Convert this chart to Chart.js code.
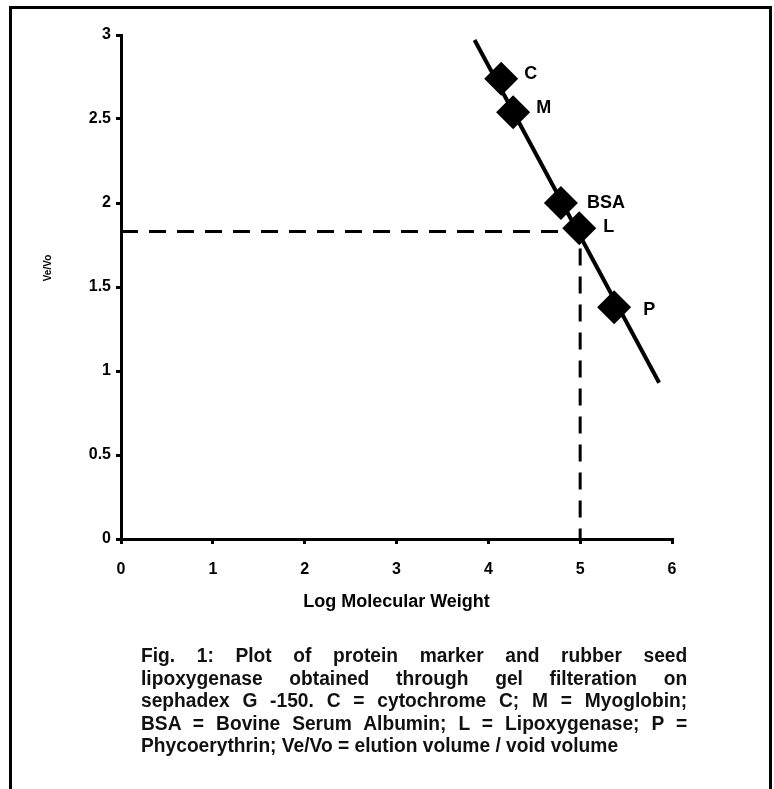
<!DOCTYPE html>
<html><head><meta charset="utf-8">
<script src="https://cdn.jsdelivr.net/npm/chart.js@4.4.1/dist/chart.umd.min.js"></script>
<style>
html,body{margin:0;padding:0;background:#fff;}
#wrap{position:relative;width:774px;height:789px;overflow:hidden;background:#fff;}
#frame{position:absolute;left:9px;top:6px;width:763px;height:820px;border:3px solid #000;border-bottom:none;box-sizing:border-box;}
#c{position:absolute;left:0;top:0;}
#cap{position:absolute;left:141px;top:644px;width:569px;transform:scaleX(0.96);transform-origin:0 0;font-family:"Liberation Sans Narrow","Arial Narrow","Liberation Sans",Arial,sans-serif;font-weight:bold;font-size:20px;line-height:22.5px;color:#111;}
#cap div{text-align:justify;text-align-last:justify;}
#cap div.last{text-align:left;text-align-last:left;}
</style></head>
<body><div id="wrap"><div id="frame"></div><canvas id="c" width="774" height="789"></canvas>
<div id="cap">
<div>Fig. 1: Plot of protein marker and rubber seed</div>
<div>lipoxygenase obtained through gel filteration on</div>
<div>sephadex G -150. C = cytochrome C; M = Myoglobin;</div>
<div>BSA = Bovine Serum Albumin; L = Lipoxygenase; P =</div>
<div class="last">Phycoerythrin; Ve/Vo = elution volume / void volume</div>
</div></div>
<script>
const markerNames = ['C', 'M', 'BSA', 'L', 'P'];
const logMW = [4.14, 4.27, 4.79, 4.99, 5.37];
const veVo = [2.74, 2.54, 2.00, 1.85, 1.38];
const fitX = [3.85, 5.86];
const fitY = [2.97, 0.93];
const guideX = [0, 5.0, 5.0];
const guideY = [1.83, 1.83, 0];
const xTicks = [0, 1, 2, 3, 4, 5, 6];
const xTickLabels = ['0', '1', '2', '3', '4', '5', '6'];
const yTicks = [0, 0.5, 1, 1.5, 2, 2.5, 3];
const yTickLabels = ['0', '0.5', '1', '1.5', '2', '2.5', '3'];
const xTitle = 'Log Molecular Weight';
const yTitle = 'Ve/Vo';

// label placement (pixels relative to marker)
const labelOffsets = [[23, -5], [23, -4], [26, 0], [24, -1], [29, 3]];
const FONT = '"Liberation Sans", Arial, sans-serif';

const zip = (xs, ys) => xs.map((v, i) => ({x: v, y: ys[i]}));

const annot = {
  id: 'annot',
  afterDatasetsDraw(chart) {
    const {ctx, scales: {x, y}} = chart;
    ctx.save();
    ctx.fillStyle = '#000';
    ctx.font = 'bold 18px ' + FONT;
    ctx.textBaseline = 'middle';
    ctx.textAlign = 'left';
    markerNames.forEach((n, i) => {
      const px = x.getPixelForValue(logMW[i]);
      const py = y.getPixelForValue(veVo[i]);
      ctx.fillText(n, px + labelOffsets[i][0], py + labelOffsets[i][1]);
    });
    ctx.translate(48, 268);
    ctx.rotate(-Math.PI / 2);
    ctx.font = 'bold 10px ' + FONT;
    ctx.textAlign = 'center';
    ctx.fillText(yTitle, 0, 0);
    ctx.restore();
  }
};

new Chart(document.getElementById('c'), {
  type: 'scatter',
  data: {
    datasets: [
      {
        label: 'markers',
        data: zip(logMW, veVo),
        pointStyle: 'rectRot',
        pointRadius: 17,
        pointBackgroundColor: '#000',
        pointBorderWidth: 0,
        showLine: false,
        order: 0
      },
      {
        label: 'fit',
        data: zip(fitX, fitY),
        showLine: true,
        borderColor: '#000',
        borderWidth: 4,
        pointRadius: 0,
        order: 1
      },
      {
        label: 'guide',
        data: zip(guideX, guideY),
        showLine: true,
        borderColor: '#000',
        borderWidth: 3,
        borderDash: [17, 11],
        pointRadius: 0,
        order: 2
      }
    ]
  },
  options: {
    responsive: false,
    animation: false,
    events: [],
    layout: {padding: {left: 0, top: 35, right: 102, bottom: 170}},
    plugins: {legend: {display: false}, tooltip: {enabled: false}},
    scales: {
      x: {
        type: 'linear', min: 0, max: 6,
        afterBuildTicks: s => { s.ticks = xTicks.map(v => ({value: v})); },
        afterFit: s => { s.height = 80; },
        border: {display: true, color: '#000', width: 3},
        grid: {display: true, drawOnChartArea: false, drawTicks: true, tickLength: 5, color: '#000', lineWidth: 3},
        ticks: {color: '#000', padding: 16, maxRotation: 0, font: {family: FONT, size: 16, weight: 'bold'},
                callback: (v, i) => xTickLabels[i]},
        title: {display: true, text: xTitle, color: '#000', padding: {top: 0, bottom: 6}, font: {family: FONT, size: 18, weight: 'bold'}}
      },
      y: {
        type: 'linear', min: 0, max: 3,
        afterBuildTicks: s => { s.ticks = yTicks.map(v => ({value: v})); },
        afterFit: s => { s.width = 121; },
        border: {display: true, color: '#000', width: 3},
        grid: {display: true, drawOnChartArea: false, drawTicks: true, tickLength: 5, color: '#000', lineWidth: 3},
        ticks: {color: '#000', padding: 5, font: {family: FONT, size: 16, weight: 'bold'},
                callback: (v, i) => yTickLabels[i]},
        title: {display: false}
      }
    }
  },
  plugins: [annot]
});
</script>
</body></html>
